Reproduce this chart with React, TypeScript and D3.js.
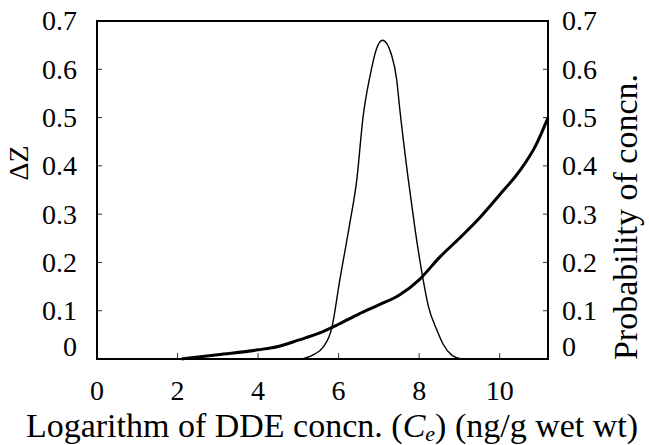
import React from "react";
import * as d3 from "d3";

const dzX = [2.1, 3.0, 4.0, 4.5, 5.0, 5.5, 6.0, 6.5, 7.0, 7.5, 8.0, 8.5, 9.0, 9.5, 10.0, 10.5, 10.9, 11.2];
const dzY = [0, 0.009, 0.019, 0.026, 0.039, 0.053, 0.072, 0.093, 0.112, 0.132, 0.164, 0.21, 0.25, 0.292, 0.34, 0.39, 0.443, 0.5];

const probX = [5.1, 5.4, 5.62, 5.83, 6.03, 6.28, 6.45, 6.61, 6.78, 6.94, 7.09, 7.32, 7.44, 7.52, 7.73, 7.9, 8.1, 8.23, 8.44, 8.6, 8.81, 9.05];
const probY = [0, 0.01, 0.025, 0.064, 0.164, 0.282, 0.37, 0.503, 0.586, 0.642, 0.66, 0.628, 0.58, 0.517, 0.372, 0.268, 0.164, 0.109, 0.06, 0.03, 0.008, 0];

const xTicks = [0, 2, 4, 6, 8, 10];
const yTicks = [0, 0.1, 0.2, 0.3, 0.4, 0.5, 0.6, 0.7];

const W = 649, H = 445;
const left = 97, right = 548, top = 21, bottom = 359;

export default function App() {
  const x = d3.scaleLinear().domain([0, 11.2]).range([left, right]);
  const y = d3.scaleLinear().domain([0, 0.7]).range([bottom, top]);
  const line = d3.line<[number, number]>().x(d => x(d[0])).y(d => y(d[1])).curve(d3.curveMonotoneX);
  const dz = dzX.map((v, i) => [v, dzY[i]] as [number, number]);
  const pr = probX.map((v, i) => [v, probY[i]] as [number, number]);
  const font = "'Liberation Serif', 'Times New Roman', serif";
  const fmt = (v: number) => (v === 0 ? "0" : v.toFixed(1));
  const labY = (v: number) => (v === 0 ? y(v) - 9 : y(v) + 3);
  return (
    <svg width={W} height={H} style={{ position: "absolute", left: 0, top: 0 }} fontFamily={font}>
      <rect width={W} height={H} fill="white" />
      {yTicks.slice(1, -1).map(v => (
        <g key={"yt" + v}>
          <line x1={left} x2={left + 5} y1={y(v)} y2={y(v)} stroke="#333" strokeWidth={1} />
          <line x1={right} x2={right - 5} y1={y(v)} y2={y(v)} stroke="#333" strokeWidth={1} />
        </g>
      ))}
      {xTicks.slice(1).map(v => (
        <line key={"xt" + v} x1={x(v)} x2={x(v)} y1={bottom} y2={bottom - 6} stroke="#333" strokeWidth={1} />
      ))}
      <path d={line(pr) || ""} fill="none" stroke="black" strokeWidth={1.4} />
      <path d={line(dz) || ""} fill="none" stroke="black" strokeWidth={3} />
      <line x1={left} x2={left} y1={top} y2={bottom} stroke="black" strokeWidth={2} />
      <line x1={right} x2={right} y1={top} y2={bottom} stroke="black" strokeWidth={2} />
      <line x1={left - 1} x2={right + 1} y1={top} y2={top} stroke="black" strokeWidth={2} />
      <line x1={left - 1} x2={right + 1} y1={bottom} y2={bottom} stroke="black" strokeWidth={2} />
      {yTicks.map(v => (
        <g key={"yl" + v} fontSize={28}>
          <text x={77} y={labY(v)} textAnchor="end" dominantBaseline="middle">{fmt(v)}</text>
          <text x={562} y={labY(v)} textAnchor="start" dominantBaseline="middle">{fmt(v)}</text>
        </g>
      ))}
      {xTicks.map(v => (
        <text key={"xl" + v} x={x(v)} y={400} textAnchor="middle" fontSize={28}>{v}</text>
      ))}
      <text x={332} y={437} textAnchor="middle" fontSize={34}>
        Logarithm of DDE concn. (<tspan fontStyle="italic">C</tspan>
        <tspan fontStyle="italic" fontSize={22} dy={4}>e</tspan>
        <tspan dy={-4}>) (ng/g wet wt)</tspan>
      </text>
      <text transform="translate(22,163) rotate(-90)" textAnchor="middle" dominantBaseline="middle" fontSize={28}>ΔZ</text>
      <text transform="translate(629,217) rotate(-90)" textAnchor="middle" dominantBaseline="middle" fontSize={34}>Probability of concn.</text>
    </svg>
  );
}
